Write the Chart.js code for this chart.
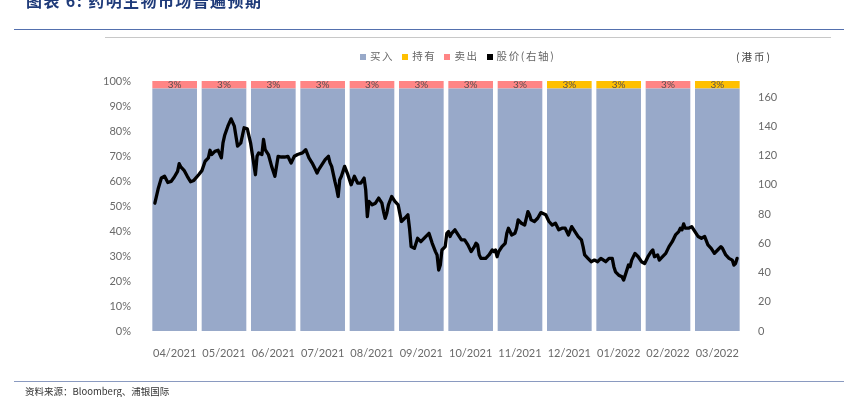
<!DOCTYPE html>
<html>
<head>
<meta charset="utf-8">
<script src="https://cdn.jsdelivr.net/npm/chart.js@4"></script>
<style>
  html, body { margin: 0; padding: 0; background: #fff; }
  #wrap { position: absolute; left: 0; top: 0; width: 857px; height: 397px; overflow: hidden; }
  #chartBox { position: absolute; left: 0; top: 0; width: 857px; height: 397px; }
  .txt { position: absolute; white-space: nowrap; font-family: "Noto Sans CJK SC", sans-serif; }
  .rule { position: absolute; height: 1px; }
  #title { left: 26px; top: -8px; font-size: 16px; line-height: 16px; font-weight: bold; color: #1F3B7A; letter-spacing: 1.4px; }
  #legend { left: 360px; top: 48px; font-size: 10.5px; line-height: 16px; color: #666; letter-spacing: 1.6px; }
  #legend span.sw { display: inline-block; width: 6px; height: 6px; margin-right: 4px; vertical-align: 0px; }
  #legend span.it { margin-right: 8px; }
  #unit { left: 736px; top: 49px; font-size: 10.5px; line-height: 16px; color: #444; letter-spacing: 2px; }
  #source { left: 25px; top: 385px; font-size: 9.5px; line-height: 12px; color: #333; }
</style>
</head>
<body>
<div id="wrap">
  <div id="chartBox"><canvas id="chart"></canvas></div>
  <div class="txt" id="title">图表 6: 药明生物市场普遍预期</div>
  <div class="rule" style="left:14px; top:29px; width:830px; background:#5470AE;"></div>
  <div class="rule" style="left:105px; top:37px; width:726px; background:#C8C8C8;"></div>
  <div class="txt" id="legend"><span class="it"><span class="sw" style="background:#98A9C9"></span>买入</span><span class="it"><span class="sw" style="background:#FFC000"></span>持有</span><span class="it"><span class="sw" style="background:#FF8585"></span>卖出</span><span class="it"><span class="sw" style="background:#000"></span>股价(右轴)</span></div>
  <div class="txt" id="unit">(港币)</div>
  <div class="rule" style="left:14px; top:381px; width:830px; background:#8A9AC0;"></div>
  <div class="txt" id="source">资料来源：Bloomberg、浦银国际</div>
</div>
<script>
const months = ["04/2021", "05/2021", "06/2021", "07/2021", "08/2021", "09/2021",
  "10/2021", "11/2021", "12/2021", "01/2022", "02/2022", "03/2022"];
const buyPct  = [97, 97, 97, 97, 97, 97, 97, 97, 97, 97, 97, 97];
const holdPct = [0, 0, 0, 0, 0, 0, 0, 0, 3, 3, 0, 3];
const sellPct = [3, 3, 3, 3, 3, 3, 3, 3, 0, 0, 3, 0];

// days since 2021-04-01 and closing price (HKD)
const priceDays = [
  3, 5, 7, 9, 11, 13, 15, 17, 18, 19, 21, 23, 25, 27, 30, 32, 34, 36, 37, 38,
  40, 42, 44, 45, 46, 48, 50, 52, 54, 56, 58, 60, 62, 65, 66, 67, 69, 70, 71, 73,
  75, 77, 79, 81, 83, 85, 87,
  89, 91, 94, 96, 98, 100, 102, 103, 104, 106, 108, 110, 111, 112, 114, 115, 116, 117, 118, 120,
  122, 124, 126, 128, 130, 132, 133, 134, 135, 137, 139, 141, 143, 144, 145, 146, 147, 149, 151, 153,
  154, 155, 157, 159, 160, 161, 163, 165, 167, 170, 172, 174, 176, 177, 178, 179, 180, 182,
  183, 184, 185, 186, 188, 190, 192, 194, 196, 198, 200, 201, 202, 203, 204, 207, 209, 211, 212, 213,
  214, 215, 217, 219, 220, 221, 222, 223, 225, 226, 227, 229, 231, 232, 233, 234, 235, 237, 239, 241,
  244, 246, 248, 250, 252, 254, 256, 258, 260, 262, 264, 266, 267, 268, 270, 272, 274,
  276, 278, 281, 283, 285, 286, 287, 289, 291, 292, 293, 295, 296, 297, 299, 301, 303, 305, 307, 309,
  310, 311, 313, 314, 315, 318, 320, 322, 324, 326, 327, 328, 329, 330, 332, 334, 336, 338, 340, 342,
  344, 346, 348, 350, 352, 353, 355, 357, 359, 360, 361, 362
];
const priceHKD = [
  87.4, 97.1, 104.6, 105.8, 101.6, 102.3, 105.3, 109.2, 114.5, 112.2, 109.9, 105.8, 102.1, 103, 106.9, 109.7, 116.1, 118.4, 123.6, 120.7,
  122.9, 123.6, 118.4, 128.7, 133.7, 140.1, 145.1, 140.1, 126.4, 128.7, 139, 138.3, 128.7, 106.9, 119.5, 121.8, 120.7, 131, 124.1, 120.7,
  112.6, 105.8, 119.5, 119, 119, 119.5, 114.9,
  119.5, 120.7, 121.8, 124, 118.4, 114.9, 110.4, 108, 110.4, 113.8, 117.2, 119.5, 115, 112.6, 102.3, 97.8, 92, 103.5, 105.8, 112.6,
  106.9, 100, 105.8, 101.2, 101.2, 104.6, 96.6, 78.3, 88.6, 86.3, 87.4, 90.9, 87.4, 81.7, 77.1, 80.6, 86.3, 92, 88.6, 86.3,
  80.6, 74.9, 77.1, 79.5, 70.3, 57.7, 56.5, 63.4, 61.1, 64.6, 66.8, 60, 54.3, 52, 41.7, 45.1, 55.4, 57.7,
  66.8, 68, 64.6, 66.8, 69.2, 65.7, 62.3, 62.3, 58.9, 54.3, 57.7, 60, 58.9, 52, 49.7, 49.7, 52, 55.4, 54.3, 55.4,
  50.8, 54.3, 57.7, 60, 66.8, 70.3, 68, 65.7, 66.8, 70.3, 76, 73.7, 72.5, 77.1, 81.7, 79.5, 76, 74.9, 77.1, 81,
  79.5, 74.9, 72.5, 73.7, 69.2, 70.3, 70.3, 65.7, 71.4, 68, 64.6, 62.3, 57.7, 52, 49.7, 47.4, 48.5,
  47.4, 49.7, 47.4, 49.7, 49.7, 44, 40.5, 38.2, 37.1, 34.8, 38.2, 45.1, 44, 48.5, 53.1, 50.8, 47.4, 46.2, 50.8, 54.3,
  55.4, 50.8, 52, 48.5, 49.7, 53.1, 57.7, 61.1, 65.7, 68, 70.3, 69.2, 73.3, 70.3, 70.3, 71.4, 68, 64.6, 63.4, 64.6,
  58.9, 56.5, 53.1, 55.4, 57.7, 56.5, 52, 49.7, 48.5, 45.1, 46.2, 49.7
];

const tickFont = { family: "Lato, 'Liberation Sans', sans-serif", size: 11 };
const tickColor = "#6a6a6a";

// writes "3%" inside the small top segments
const segLabels = {
  id: "segLabels",
  afterDatasetsDraw(chart) {
    const ctx = chart.ctx;
    ctx.save();
    ctx.font = "10px Lato, 'Liberation Sans', sans-serif";
    ctx.fillStyle = "#5a5050";
    ctx.textAlign = "center";
    ctx.textBaseline = "middle";
    [1, 2].forEach(di => {
      const meta = chart.getDatasetMeta(di);
      const vals = chart.data.datasets[di].data;
      meta.data.forEach((bar, i) => {
        if (!vals[i]) return;
        ctx.fillText(vals[i] + "%", bar.x, (bar.y + bar.base) / 2 + 0.5);
      });
    });
    ctx.restore();
  }
};

const barStyle = { stack: "pct", grouped: false, order: 2, barPercentage: 0.905, categoryPercentage: 1 };

new Chart(document.getElementById("chart"), {
  type: "bar",
  data: {
    labels: months,
    datasets: [
      { type: "bar", label: "买入", data: buyPct, backgroundColor: "#98A9C9", ...barStyle },
      { type: "bar", label: "持有", data: holdPct, backgroundColor: "#FFC000", ...barStyle },
      { type: "bar", label: "卖出", data: sellPct, backgroundColor: "#FF8585", ...barStyle },
      { type: "line", label: "股价 (右轴)", order: 0,
        data: priceDays.map((d, i) => ({ x: d, y: priceHKD[i] })),
        xAxisID: "xLine", yAxisID: "y1",
        borderColor: "#000", borderWidth: 3.3, pointRadius: 0, tension: 0,
        borderJoinStyle: "round", borderCapStyle: "round" }
    ]
  },
  options: {
    responsive: true,
    maintainAspectRatio: false,
    animation: false,
    layout: { padding: { top: 81, left: 0, right: 0, bottom: 0 } },
    plugins: { legend: { display: false }, tooltip: { enabled: false } },
    scales: {
      x: {
        type: "category", stacked: true,
        grid: { display: false }, border: { display: false },
        ticks: { color: tickColor, font: tickFont, padding: 8, maxRotation: 0 },
        afterFit: s => { s.height = 66; }
      },
      xLine: { type: "linear", min: 0, max: 365, offset: false, display: false },
      y: {
        stacked: true, min: 0, max: 100,
        grid: { display: false }, border: { display: false },
        ticks: { stepSize: 10, color: tickColor, font: tickFont, padding: 11, callback: v => v + "%" },
        afterFit: s => { s.width = 150; }
      },
      y1: {
        position: "right", min: 0, max: 171,
        grid: { display: false }, border: { display: false },
        ticks: { stepSize: 20, color: tickColor, font: tickFont, padding: 8 },
        afterBuildTicks: s => { s.ticks = s.ticks.filter(t => t.value % 20 === 0); },
        afterFit: s => { s.width = 115; }
      }
    }
  },
  plugins: [segLabels]
});
</script>
</body>
</html>
